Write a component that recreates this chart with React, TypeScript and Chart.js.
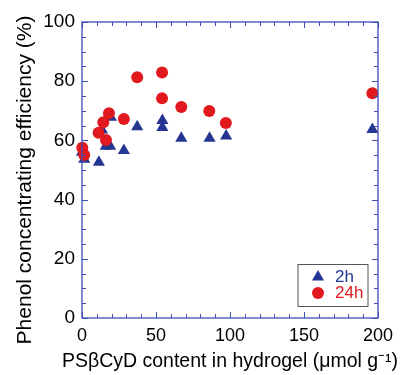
import React, { useEffect, useRef } from "react";
import { Chart, registerables } from "chart.js";

Chart.register(...registerables);

// ---- data ----
const x2h = [0, 1.5, 11.4, 13.5, 16, 19, 19.5, 28.3, 37.3, 54.3, 54.3, 67.1, 86.2, 97.4, 196.2];
const y2h = [56, 53.6, 52.6, 63.5, 58, 58, 67.8, 56.6, 64.6, 66.7, 64.4, 60.7, 60.7, 61.5, 63.7];
const x24h = [0.2, 1.5, 11.2, 14.4, 16.2, 18.2, 28.3, 37.3, 54.1, 54.1, 67.1, 86, 97.2, 196.2];
const y24h = [57.5, 55.1, 62.6, 66.1, 60.1, 69.2, 67.2, 81.3, 82.9, 74.2, 71.3, 69.9, 65.9, 75.9];
const seriesLabels = ["2h", "24h"];
const xTickLabels = [0, 50, 100, 150, 200];
const yTickLabels = [0, 20, 40, 60, 80, 100];
const xTitle = "PSβCyD content in hydrogel (μmol g⁻¹)";
const yTitle = "Phenol concentrating efficiency (%)";

const BLUE = "#243592";
const RED = "#e1191f";
const AXIS = "#3d4fb3";
const FONT = "'Liberation Sans', Arial, sans-serif";

const framePlugin = {
  id: "frameTicks",
  afterDraw(chart: any) {
    const { ctx, chartArea: a } = chart;
    const xs = chart.scales.x;
    const ys = chart.scales.y;
    ctx.save();
    ctx.strokeStyle = AXIS;
    ctx.lineWidth = 1.3;
    ctx.strokeRect(a.left, a.top, a.right - a.left, a.bottom - a.top);
    ctx.lineWidth = 1;
    ctx.beginPath();
    for (let v = xs.min; v <= xs.max + 1e-9; v += 10) {
      const px = Math.round(xs.getPixelForValue(v)) + 0.5;
      const len = v % 50 === 0 ? 6 : 4;
      ctx.moveTo(px, a.bottom);
      ctx.lineTo(px, a.bottom - len);
      ctx.moveTo(px, a.top);
      ctx.lineTo(px, a.top + len);
    }
    for (let v = ys.min; v <= ys.max + 1e-9; v += 5) {
      const py = Math.round(ys.getPixelForValue(v)) + 0.5;
      const len = v % 20 === 0 ? 6 : 4;
      ctx.moveTo(a.left, py);
      ctx.lineTo(a.left + len, py);
      ctx.moveTo(a.right, py);
      ctx.lineTo(a.right - len, py);
    }
    ctx.stroke();

    // y title
    ctx.fillStyle = "#000";
    ctx.textAlign = "center";
    ctx.textBaseline = "middle";
    ctx.font = `21px ${FONT}`;
    ctx.save();
    ctx.translate(25, 180);
    ctx.rotate(-Math.PI / 2);
    ctx.fillText(yTitle, 0, 0);
    ctx.restore();
    // x title
    ctx.font = `19.5px ${FONT}`;
    ctx.fillText(xTitle, (a.left + a.right) / 2, 362);

    // legend box
    const bx = 298, by = 264.5, bw = 70, bh = 42;
    ctx.strokeStyle = "#555";
    ctx.lineWidth = 1;
    ctx.fillStyle = "#fff";
    ctx.fillRect(bx, by, bw, bh);
    ctx.strokeRect(bx, by, bw, bh);
    const ds = chart.data.datasets;
    const rows = [277, 293];
    ds.forEach((d: any, i: number) => {
      const cy = rows[i];
      ctx.fillStyle = d.backgroundColor;
      ctx.beginPath();
      if (d.pointStyle === "triangle") {
        const r = 7;
        ctx.moveTo(318, cy - r);
        ctx.lineTo(318 + r * Math.sin((2 * Math.PI) / 3), cy + r / 2);
        ctx.lineTo(318 - r * Math.sin((2 * Math.PI) / 3), cy + r / 2);
        ctx.closePath();
      } else {
        ctx.arc(318, cy, 6, 0, Math.PI * 2);
      }
      ctx.fill();
      ctx.font = `17px ${FONT}`;
      ctx.textAlign = "left";
      ctx.textBaseline = "middle";
      ctx.fillText(d.label, 335, cy + 0.5);
    });
    ctx.restore();
  },
};

export default function App() {
  const ref = useRef<HTMLCanvasElement>(null);
  useEffect(() => {
    document.body.style.margin = "0";
    const chart = new Chart(ref.current!, {
      type: "scatter",
      data: {
        datasets: [
          {
            label: seriesLabels[0],
            data: x2h.map((x, i) => ({ x, y: y2h[i] })),
            pointStyle: "triangle",
            radius: 7,
            backgroundColor: BLUE,
            borderColor: BLUE,
            borderWidth: 0,
            order: 2,
          },
          {
            label: seriesLabels[1],
            data: x24h.map((x, i) => ({ x, y: y24h[i] })),
            pointStyle: "circle",
            radius: 6,
            backgroundColor: RED,
            borderColor: RED,
            borderWidth: 0,
            order: 1,
          },
        ] as any,
      },
      options: {
        animation: false,
        responsive: false,
        clip: false as any,
        layout: { padding: { left: 0, top: 22, right: 21, bottom: 0 } },
        plugins: { legend: { display: false }, tooltip: { enabled: false } },
        scales: {
          x: {
            type: "linear",
            min: 0,
            max: 200,
            afterFit: (s: any) => { s.height = 57; },
            afterBuildTicks: (s: any) => { s.ticks = xTickLabels.map((v) => ({ value: v })); },
            grid: { display: false, drawTicks: false },
            border: { display: false },
            ticks: { color: "#000", font: { family: FONT, size: 18 }, padding: 7, maxRotation: 0 },
          },
          y: {
            type: "linear",
            min: 0,
            max: 100,
            afterFit: (s: any) => { s.width = 82; },
            afterBuildTicks: (s: any) => { s.ticks = yTickLabels.map((v) => ({ value: v })); },
            grid: { display: false, drawTicks: false },
            border: { display: false },
            ticks: { color: "#000", font: { family: FONT, size: 19 }, padding: 7 },
          },
        },
      },
      plugins: [framePlugin],
    });
    return () => chart.destroy();
  }, []);
  return <canvas ref={ref} width={400} height={375} style={{ display: "block" }} />;
}
